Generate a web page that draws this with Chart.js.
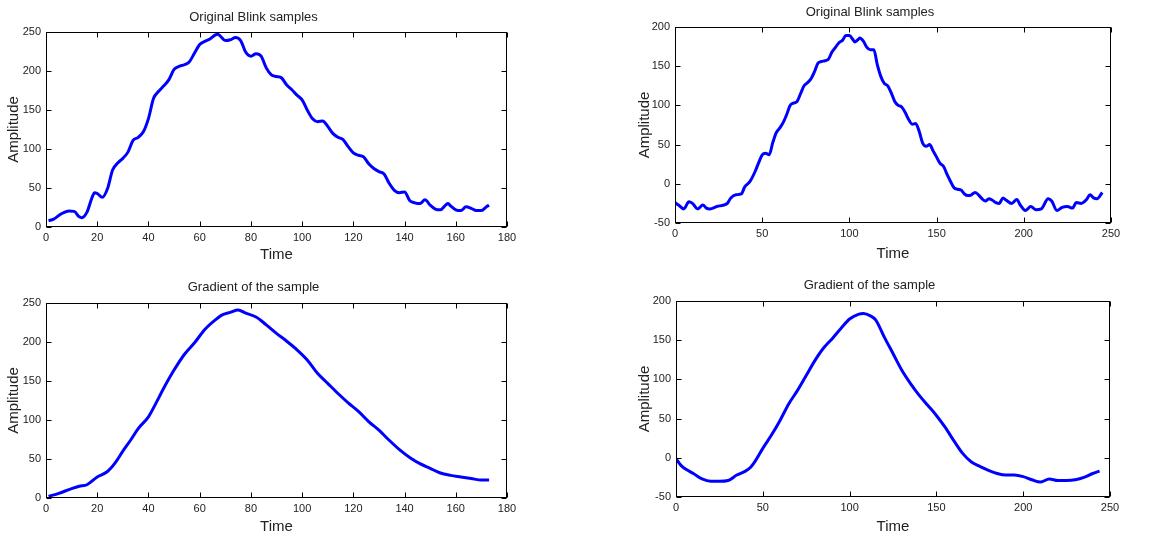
<!DOCTYPE html>
<html>
<head>
<meta charset="utf-8">
<title>Blink samples</title>
<script src="https://cdn.jsdelivr.net/npm/chart.js@4.4.1/dist/chart.umd.min.js"></script>
<style>
  html, body { margin: 0; padding: 0; background: #fff; overflow: hidden; }
  #wrap { position: relative; width: 1150px; height: 538px; }
  .box { position: absolute; }
  .box canvas { display: block; }
</style>
</head>
<body>
<div id="wrap">
  <div class="box" id="b1"><canvas id="c1"></canvas></div>
  <div class="box" id="b2"><canvas id="c2"></canvas></div>
  <div class="box" id="b3"><canvas id="c3"></canvas></div>
  <div class="box" id="b4"><canvas id="c4"></canvas></div>
</div>
<script>
// first blink (left column)
var blink1Time = [1, 3, 6, 9, 11, 13, 14, 16, 18, 19, 20, 22, 24, 26, 28, 30, 32, 34, 36, 38, 40, 42, 44, 46, 48, 50, 52, 54, 56, 58, 60, 62, 64, 66, 67, 68, 70, 72, 74, 76, 78, 80, 82, 84, 86, 88, 90, 92, 94, 96, 98, 100, 102, 104, 106, 108, 110, 112, 114, 116, 118, 120, 122, 124, 126, 128, 130, 132, 134, 136, 138, 140, 142, 144, 146, 148, 150, 152, 154, 156, 157, 158, 160, 162, 164, 166, 168, 170, 172, 173];
var blink1Amp = [8, 10, 17, 20.5, 20, 13, 12, 19, 38, 44, 43, 38, 49, 73, 82, 88, 96, 111, 115, 122, 139, 165, 174, 181, 189, 202, 206, 208, 212, 223, 234, 238, 241, 246, 247, 245, 239, 240, 243, 239, 224, 219, 222, 219, 204, 195, 193, 191, 182, 176, 169, 163, 150, 139, 135, 136, 129, 120, 115, 112, 103, 95, 92, 90, 81, 75, 71, 68, 56, 47, 44, 45, 34, 31, 30, 35, 28, 23, 22, 28, 30, 27, 22, 21, 26, 24, 21, 21, 26, 28];

var grad1Time = [1, 5, 10, 13, 16, 20, 24, 27, 30, 33, 36, 40, 43, 46, 50, 54, 58, 62, 66, 69, 72, 75, 78, 82, 86, 90, 94, 98, 102, 106, 110, 114, 118, 122, 126, 130, 134, 138, 142, 146, 150, 154, 158, 162, 166, 170, 173];
var grad1Amp = [2, 6, 12, 15, 17, 27, 34, 45, 60, 74, 89, 104, 122, 141, 164, 184, 199, 216, 228, 235, 238, 241, 237, 232, 222, 211, 201, 190, 177, 160, 147, 134, 122, 111, 98, 87, 74, 62, 52, 44, 38, 32, 29, 27, 25, 23, 23];

// second blink (right column)
var blink2Time = [0, 2, 5, 8, 10, 13, 16, 18, 20, 24, 28, 30, 32, 35, 38, 40, 43, 46, 48, 50, 52, 54, 56, 58, 60, 62, 64, 66, 68, 70, 72, 74, 76, 78, 80, 82, 84, 86, 88, 90, 92, 94, 96, 98, 100, 102, 103, 105, 106, 108, 110, 112, 114, 116, 118, 120, 122, 124, 126, 128, 130, 132, 134, 136, 138, 140, 142, 144, 146, 148, 150, 152, 154, 156, 158, 160, 162, 164, 166, 168, 170, 172, 174, 176, 178, 180, 182, 184, 186, 188, 190, 193, 196, 198, 201, 204, 207, 210, 214, 216, 219, 222, 225, 228, 230, 233, 236, 238, 240, 242, 245];
var blink2Amp = [-24, -27, -32, -23, -25, -32, -27, -31, -32, -29, -27, -25, -18, -14, -13, -4, 3, 16, 27, 37, 39, 37, 52, 65, 71, 78, 88, 100, 103, 105, 115, 125, 129, 134, 143, 154, 156, 157, 159, 168, 174, 180, 183, 189, 189, 184, 181, 184, 186, 182, 174, 171, 171, 152, 137, 128, 125, 116, 105, 100, 98, 91, 82, 76, 77, 67, 52, 48, 50, 42, 34, 26, 22, 12, 3, -5, -7, -8, -13, -15, -14, -11, -14, -19, -22, -19, -21, -24, -25, -18, -21, -25, -20, -27, -34, -29, -33, -32, -19, -22, -34, -30, -29, -31, -24, -25, -20, -14, -18, -19, -11];

var grad2Time = [0, 3, 6, 10, 15, 20, 25, 30, 35, 40, 43, 46, 50, 55, 60, 65, 70, 75, 80, 85, 90, 95, 100, 105, 108, 112, 115, 120, 125, 130, 135, 140, 145, 150, 155, 160, 165, 170, 175, 180, 185, 190, 195, 200, 205, 210, 215, 220, 225, 230, 235, 240, 244];
var grad2Amp = [-1, -10, -15, -20, -27, -30, -30, -29, -22, -17, -12, -3, 12, 29, 48, 69, 86, 105, 124, 140, 152, 165, 177, 183, 184, 181, 176, 154, 133, 112, 95, 80, 67, 54, 39, 22, 6, -5, -11, -16, -20, -22, -22, -24, -28, -31, -27, -29, -29, -28, -25, -20, -17];

var leftXTicks = [0, 20, 40, 60, 80, 100, 120, 140, 160, 180];
var leftYTicks = [0, 50, 100, 150, 200, 250];
var rightXTicks = [0, 50, 100, 150, 200, 250];
var rightYTicks = [-50, 0, 50, 100, 150, 200];

var sampleTitle = 'Original Blink samples';
var gradientTitle = 'Gradient of the sample';
var xLabel = 'Time';
var yLabel = 'Amplitude';

var FONT = "'Liberation Sans', Arial, sans-serif";
var BLUE = '#0000ff';

function toPoints(xs, ys) {
    var pts = [];
    for (var i = 0; i < xs.length; i++) {
        pts.push({ x: xs[i], y: ys[i] });
    }
    return pts;
}

// matlab style axes: closed box with ticks pointing inside on all four sides
var matlabBox = {
    id: 'matlabBox',
    afterDatasetsDraw: function(chart) {
        var ctx = chart.ctx, a = chart.chartArea;
        var sx = chart.scales.x, sy = chart.scales.y;
        var L = Math.round(a.left) + 0.5, R = Math.round(a.right) - 0.5;
        var T = Math.round(a.top) + 0.5, B = Math.round(a.bottom) - 0.5;
        var len = 5;
        ctx.save();
        ctx.strokeStyle = '#000';
        ctx.lineWidth = 1;
        ctx.beginPath();
        sx.ticks.forEach(function(t) {
            var px = Math.round(sx.getPixelForValue(t.value)) + 0.5;
            ctx.moveTo(px, B); ctx.lineTo(px, B - len);
            ctx.moveTo(px, T); ctx.lineTo(px, T + len);
        });
        sy.ticks.forEach(function(t) {
            var py = Math.round(sy.getPixelForValue(t.value)) + 0.5;
            ctx.moveTo(L, py); ctx.lineTo(L + len, py);
            ctx.moveTo(R, py); ctx.lineTo(R - len, py);
        });
        ctx.stroke();
        ctx.strokeRect(L, T, R - L, B - T);
        ctx.restore();
    }
};

function makeChart(id, box, title, xs, ys, xTicks, yTicks) {
    var holder = document.getElementById('b' + id);
    holder.style.left = box.left + 'px';
    holder.style.top = box.top + 'px';
    var canvas = document.getElementById('c' + id);
    canvas.width = box.width;
    canvas.height = box.height;

    var titleLine = 13 * 1.2;
    var titleBlock = box.plot.t - box.top;
    var titlePadTop = box.titleY - box.top - titleLine / 2;
    var xAxisH = box.top + box.height - box.plot.b;
    var xTitlePad = (box.top + box.height - box.xTitleY) - 9;
    var yTitlePad = (box.yTitleX - box.left) - 9;

    return new Chart(canvas, {
        type: 'line',
        data: {
            datasets: [{
                data: toPoints(xs, ys),
                borderColor: BLUE,
                borderWidth: 3,
                pointRadius: 0,
                fill: false,
                cubicInterpolationMode: 'monotone'
            }]
        },
        options: {
            responsive: false,
            animation: false,
            events: [],
            layout: {
                padding: { left: 0, top: 0, bottom: 0, right: box.left + box.width - box.plot.r }
            },
            plugins: {
                legend: { display: false },
                tooltip: { enabled: false },
                title: {
                    display: true,
                    text: title,
                    color: '#222',
                    font: { family: FONT, size: 13, weight: 'normal' },
                    padding: { top: titlePadTop, bottom: titleBlock - titleLine - titlePadTop }
                }
            },
            scales: {
                x: {
                    type: 'linear',
                    min: xTicks[0],
                    max: xTicks[xTicks.length - 1],
                    afterFit: function(scale) { scale.height = xAxisH; },
                    grid: { display: false, drawTicks: false },
                    border: { display: false },
                    ticks: {
                        stepSize: xTicks[1] - xTicks[0],
                        color: '#222',
                        padding: 4,
                        maxRotation: 0,
                        font: { family: FONT, size: 11 }
                    },
                    title: {
                        display: true,
                        text: xLabel,
                        color: '#222',
                        padding: { top: xTitlePad, bottom: xTitlePad },
                        font: { family: FONT, size: 15 }
                    }
                },
                y: {
                    min: yTicks[0],
                    max: yTicks[yTicks.length - 1],
                    afterFit: function(scale) { scale.width = box.plot.l - box.left; },
                    grid: { display: false, drawTicks: false },
                    border: { display: false },
                    ticks: {
                        stepSize: yTicks[1] - yTicks[0],
                        color: '#222',
                        padding: 5,
                        font: { family: FONT, size: 11 }
                    },
                    title: {
                        display: true,
                        text: yLabel,
                        color: '#222',
                        padding: { top: yTitlePad, bottom: yTitlePad },
                        font: { family: FONT, size: 15 }
                    }
                }
            }
        },
        plugins: [matlabBox]
    });
}

makeChart(1, { left: 0, top: 0, width: 553, height: 270, plot: { l: 46, t: 32, r: 507, b: 227 }, titleY: 17, xTitleY: 255, yTitleX: 14 },
    sampleTitle, blink1Time, blink1Amp, leftXTicks, leftYTicks);
makeChart(2, { left: 629, top: 0, width: 521, height: 270, plot: { l: 675, t: 27, r: 1111, b: 223 }, titleY: 12, xTitleY: 254, yTitleX: 645 },
    sampleTitle, blink2Time, blink2Amp, rightXTicks, rightYTicks);
makeChart(3, { left: 0, top: 270, width: 553, height: 268, plot: { l: 46, t: 303, r: 507, b: 498 }, titleY: 287, xTitleY: 527, yTitleX: 14 },
    gradientTitle, grad1Time, grad1Amp, leftXTicks, leftYTicks);
makeChart(4, { left: 629, top: 270, width: 521, height: 268, plot: { l: 676, t: 301, r: 1110, b: 497 }, titleY: 285, xTitleY: 527, yTitleX: 645 },
    gradientTitle, grad2Time, grad2Amp, rightXTicks, rightYTicks);
</script>
</body>
</html>
